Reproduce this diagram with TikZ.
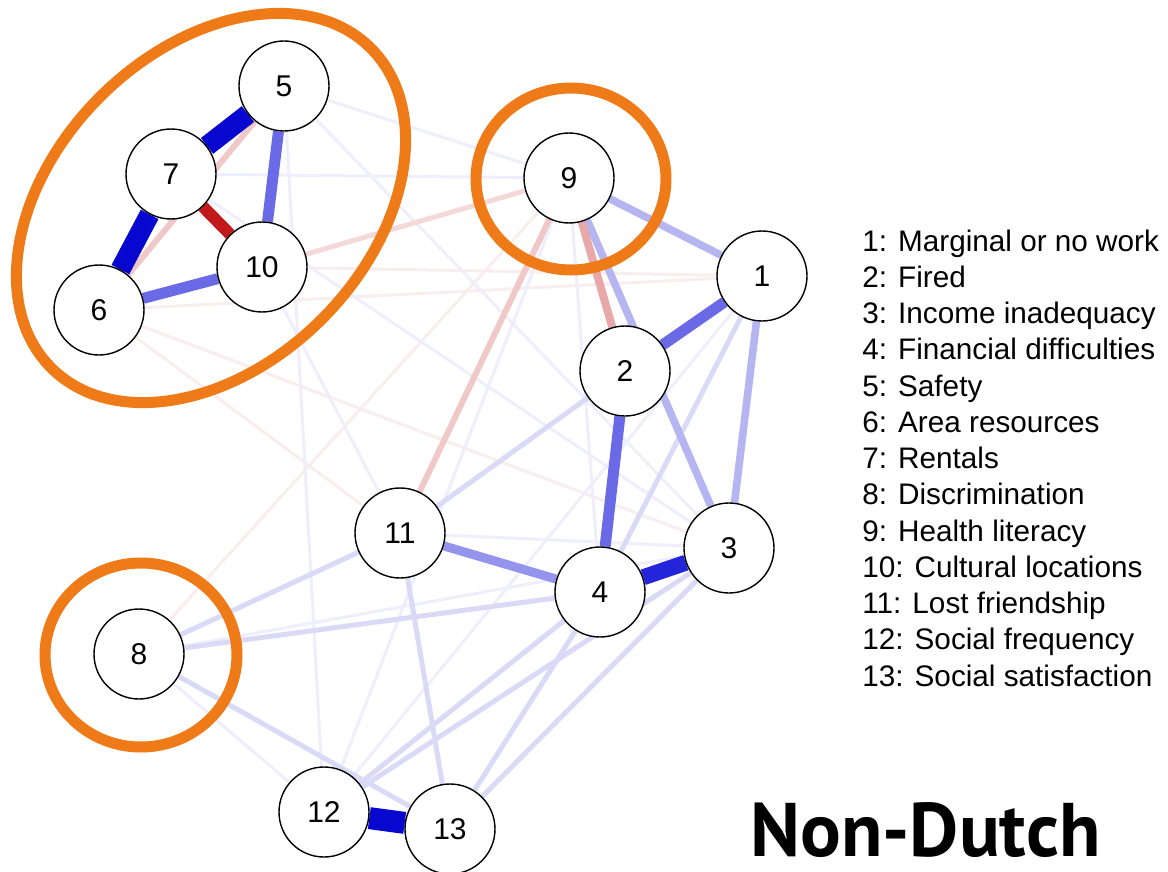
\documentclass[tikz,border=0pt]{standalone}
\usepackage{fontspec}
\setmainfont{Liberation Sans}
\newfontfamily\titlefont{PT Sans}
\usepackage{tikz}

\definecolor{ringorange}{HTML}{EE7A18}
\definecolor{blueA}{HTML}{0707CF}
\definecolor{blueB}{HTML}{2424DA}
\definecolor{blueC}{HTML}{6A6AE6}
\definecolor{blueD}{HTML}{9494EC}
\definecolor{blueE}{HTML}{B5B5F1}
\definecolor{blueF}{HTML}{DADAF7}
\definecolor{blueG}{HTML}{EEEEFC}
\definecolor{redA}{HTML}{C21A1A}
\definecolor{redB}{HTML}{E8A8A8}
\definecolor{redC}{HTML}{F0C8C8}
\definecolor{redD}{HTML}{FAEDED}

\pgfdeclarelayer{background}
\pgfsetlayers{background,main}

\begin{document}
\begin{tikzpicture}[x=0.5pt, y=-0.5pt,
			roundnode/.style={circle, draw=black, fill=white, line width=0.7pt, minimum size=45pt, inner sep=0pt, font=\fontsize{15}{18}\selectfont},
			ring/.style={draw=ringorange, line width=5.5pt},
			legend/.style={anchor=base west, inner sep=0pt, font=\fontsize{14.85}{18}\selectfont},
			posA/.style={draw=blueA, line width=10pt},
			posB/.style={draw=blueB, line width=8pt},
			posC/.style={draw=blueC, line width=5.5pt},
			posD/.style={draw=blueD, line width=4.5pt},
			posE/.style={draw=blueE, line width=3.8pt},
			posF/.style={draw=blueF, line width=2.5pt},
			posG/.style={draw=blueG, line width=1.5pt},
			negA/.style={draw=redA, line width=6pt},
			negB/.style={draw=redB, line width=4pt},
			negC/.style={draw=redC, line width=3pt},
			negD/.style={draw=redD, line width=1.5pt},
		]
		\useasboundingbox (0,0) rectangle (1168,872);

			%Nodes
			\node[roundnode] (n1)  at (762,276) {1};
			\node[roundnode] (n2)  at (625,371) {2};
			\node[roundnode] (n3)  at (729,548) {3};
			\node[roundnode] (n4)  at (600,592) {4};
			\node[roundnode] (n5)  at (284,86)  {5};
			\node[roundnode] (n6)  at (99,310)  {6};
			\node[roundnode] (n7)  at (171,174) {7};
			\node[roundnode] (n8)  at (139,654) {8};
			\node[roundnode] (n9)  at (569,178) {9};
			\node[roundnode] (n10) at (262,267) {10};
			\node[roundnode] (n11) at (400,533) {11};
			\node[roundnode] (n12) at (324,812) {12};
			\node[roundnode] (n13) at (450,829) {13};

			%Lines
			\begin{pgfonlayer}{background}
			% faint
			\draw[negD] (n10) -- (n1);
			\draw[negD] (n6) -- (n1);
			\draw[negD] (n6) -- (n3);
			\draw[negD] (n6) -- (n11);
			\draw[negD] (n9) -- (n8);
			\draw[posG] (n5) -- (n9);
			\draw[posG] (n7) -- (n9);
			\draw[posG] (n5) -- (n3);
			\draw[posG] (n7) -- (n3);
			\draw[posG] (n5) -- (n12);
			\draw[posG] (n10) -- (n11);
			\draw[posG] (n9) -- (n4);
			\draw[posG] (n12) -- (n9);
			\draw[posG] (n12) -- (n1);
			\draw[posG] (n11) -- (n3);
			\draw[posG] (n8) -- (n12);
			\draw[posG] (n8) -- (n3);
			% light
			\draw[draw=redC!70, line width=2.5pt] (n10) -- (n9);
			\draw[posF] (n8) -- (n11);
			\draw[posF] (n8) -- (n4);
			\draw[posF] (n8) -- (n13);
			\draw[posF] (n11) -- (n13);
			\draw[posF] (n4) -- (n13);
			\draw[posF] (n3) -- (n13);
			\draw[posF] (n2) -- (n11);
			\draw[posF] (n12) -- (n4);
			\draw[posF] (n12) -- (n3);
			\draw[posF] (n1) -- (n4);
			% medium
			\draw[negC] (n6) -- (n5);
			\draw[negC] (n9) -- (n11);
			\draw[posE] (n9) -- (n1);
			\draw[posE] (n9) -- (n3);
			\draw[posE] (n1) -- (n3);
			\draw[negB] (n9) -- (n2);
			\draw[posD] (n11) -- (n4);
			% strong
			\draw[posC] (n5) -- (n10);
			\draw[posC] (n6) -- (n10);
			\draw[posC] (n1) -- (n2);
			\draw[posC] (n2) -- (n4);
			\draw[posB] (n4) -- (n3);
			\draw[negA] (n7) -- (n10);
			\draw[posA] (n5) -- (n7);
			\draw[posA] (n7) -- (n6);
			\draw[posA, line width=11pt] (n12) -- (n13);
			\end{pgfonlayer}

			%Rings
			\draw[ring, rotate around={45:(211,208)}] (211,208) ellipse [x radius=226, y radius=157];
			\draw[ring] (571,179) ellipse [x radius=95, y radius=91];
			\draw[ring] (141,655) ellipse [x radius=96, y radius=92];

			%Legend
			\foreach \t [count=\i] in {Marginal or no work, Fired, Income inadequacy, Financial difficulties, Safety, Area resources, Rentals, Discrimination, Health literacy, Cultural locations, Lost friendship, Social frequency, Social satisfaction}
				\node[legend] (leg\i) at (862,{251+36.25*(\i-1)}) {\i: \t};

			\node[anchor=base west, inner sep=0pt, text depth=0pt, font=\titlefont\bfseries\fontsize{38}{40}\selectfont] (title) at (750,856) {Non-Dutch};

		\end{tikzpicture}
\end{document}
